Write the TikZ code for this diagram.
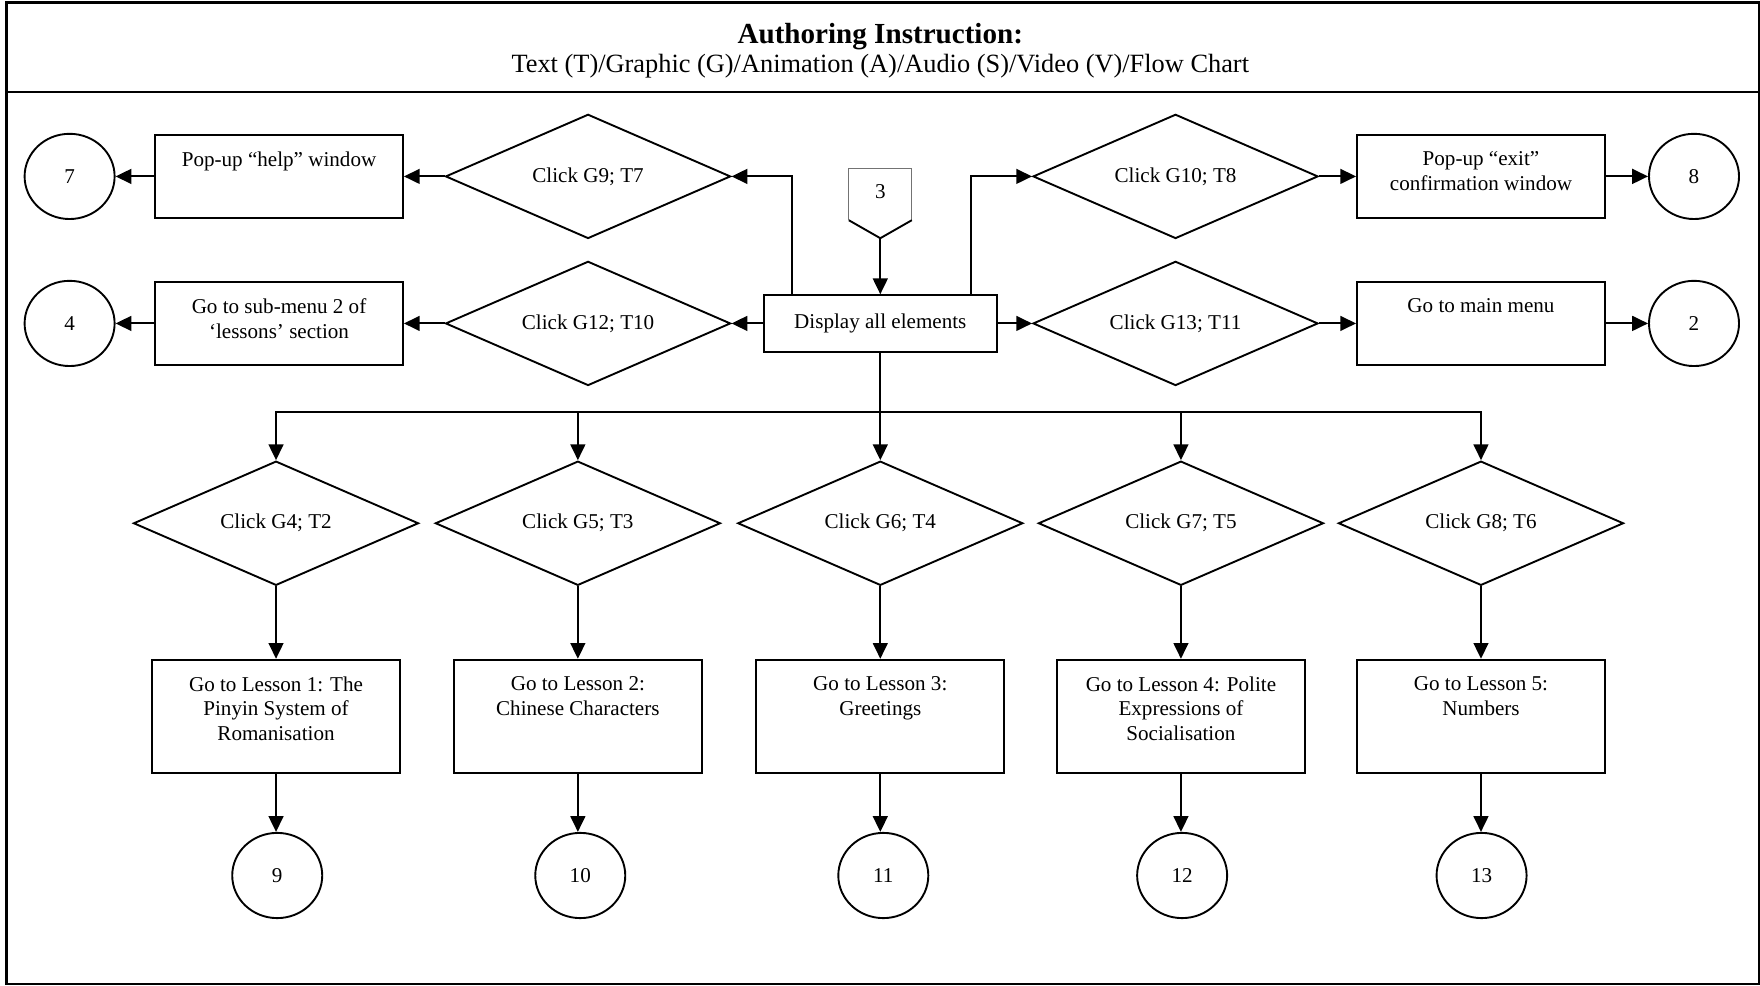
\documentclass[tikz,border=0pt]{standalone}
\usepackage{fontspec}
\setmainfont{Liberation Serif}
\usepackage{tikz}
\usetikzlibrary{arrows.meta,calc,positioning,shapes.geometric}

\begin{document}
\begin{tikzpicture}[line width=0.9pt, every node/.style={font=\fontsize{10}{11.7}\selectfont},
  kutu/.style={draw,minimum width=4.13cm,minimum height=1.38cm,inner sep=0pt},
  icyazi/.style={anchor=north,align=center,inner sep=0pt,yshift=-0.28cm},
  karar/.style={draw,diamond,aspect=2.3,minimum width=4.75cm,minimum height=2.07cm,inner sep=1pt},
  daire/.style={draw,ellipse,minimum width=1.5cm,minimum height=1.42cm,inner sep=0pt},
  ok/.style={-{Triangle[length=7.5pt,width=7pt]},line width=1pt}]
\useasboundingbox (0,0) rectangle (29.33,16.42);
% cerceve ve baslik
\draw[line width=1.2pt] (0.11,0.02) rectangle (29.31,16.38);
\draw[line width=1.2pt] (0.11,14.89) -- (29.31,14.89);
\node[font=\fontsize{13.8}{16}\selectfont\bfseries] (baslik) at (14.67,15.81) {Authoring Instruction:};
\node[font=\fontsize{12.5}{15}\selectfont] (altbaslik) at (14.67,15.32) {Text (T)/Graphic (G)/Animation (A)/Audio (S)/Video (V)/Flow Chart};

% ust satir
\node[daire] (c7) at (1.16,13.48) {7};
\node[kutu,label={[icyazi]north:{Pop-up “help” window}}] (yardim) at (4.65,13.48) {};
\node[karar] (g9) at (9.80,13.48) {Click G9; T7};
\node[karar] (g10) at (19.59,13.48) {Click G10; T8};
\node[kutu,label={[icyazi]north:{Pop-up “exit”\\confirmation window}}] (cikis) at (24.68,13.48) {};
\node[daire] (c8) at (28.23,13.48) {8};

% sayfa baglantisi 3
\node (n3) at (14.67,13.22) {3};
\coordinate (n3uc) at ($(n3)+(0,-0.77)$);
\draw[thin,black!55] ($(n3)+(-0.525,-0.47)$) |- ($(n3)+(0.525,0.39)$) -- ($(n3)+(0.525,-0.47)$);
\draw ($(n3)+(-0.525,-0.47)$) -- (n3uc) -- ($(n3)+(0.525,-0.47)$);

% ikinci satir
\node[daire] (c4) at (1.16,11.03) {4};
\node[kutu,label={[icyazi]north:{Go to sub-menu 2 of\\‘lessons’ section}}] (altmenu) at (4.65,11.03) {};
\node[karar] (g12) at (9.80,11.03) {Click G12; T10};
\node[kutu,minimum width=3.89cm,minimum height=0.94cm] (goster) at (14.67,11.03) {Display all elements};
\node[karar] (g13) at (19.59,11.03) {Click G13; T11};
\node[kutu,label={[icyazi]north:{Go to main menu}}] (anamenu) at (24.68,11.03) {};
\node[daire] (c2) at (28.23,11.03) {2};

% ders secimleri
\coordinate (dagit) at (14.67,9.55);
\node[karar] (d1) at (4.6,7.70) {Click G4; T2};
\node[karar] (d2) at (9.63,7.70) {Click G5; T3};
\node[karar] (d3) at (14.67,7.70) {Click G6; T4};
\node[karar] (d4) at (19.68,7.70) {Click G7; T5};
\node[karar] (d5) at (24.68,7.70) {Click G8; T6};
\node[kutu,minimum height=1.89cm,label={[icyazi]north:{Go to Lesson 1: The\\Pinyin System of\\Romanisation}}] (l1) at (4.6,4.48) {};
\node[kutu,minimum height=1.89cm,label={[icyazi]north:{Go to Lesson 2:\\Chinese Characters}}] (l2) at (9.63,4.48) {};
\node[kutu,minimum height=1.89cm,label={[icyazi]north:{Go to Lesson 3:\\Greetings}}] (l3) at (14.67,4.48) {};
\node[kutu,minimum height=1.89cm,label={[icyazi]north:{Go to Lesson 4: Polite\\Expressions of\\Socialisation}}] (l4) at (19.68,4.48) {};
\node[kutu,minimum height=1.89cm,label={[icyazi]north:{Go to Lesson 5:\\Numbers}}] (l5) at (24.68,4.48) {};
\node[daire] (c9) at (4.62,1.83) {9};
\node[daire] (c10) at (9.67,1.83) {10};
\node[daire] (c11) at (14.72,1.83) {11};
\node[daire] (c12) at (19.70,1.83) {12};
\node[daire] (c13) at (24.69,1.83) {13};

% baglantilar
\draw[ok] (n3uc) -- (goster);
\draw[ok] ($(goster.north west)!0.125!(goster.north east)$) |- (g9);
\draw[ok] ($(goster.north west)!0.885!(goster.north east)$) |- (g10);
\draw[ok] (goster) -- (g12);
\draw[ok] (goster) -- (g13);
\foreach \x/\y in {g9/yardim, yardim/c7, g12/altmenu, altmenu/c4, g10/cikis, cikis/c8, g13/anamenu, anamenu/c2}
  \draw[ok] (\x) -- (\y);
\draw (goster) -- (dagit);
\foreach \i/\c in {1/9, 2/10, 3/11, 4/12, 5/13} {
  \draw[ok] (dagit) -| (d\i);
  \draw[ok] (d\i) -- (l\i);
  \draw[ok] (l\i.south) -- (l\i.south |- c\c.north);
}
\end{tikzpicture}
\end{document}
